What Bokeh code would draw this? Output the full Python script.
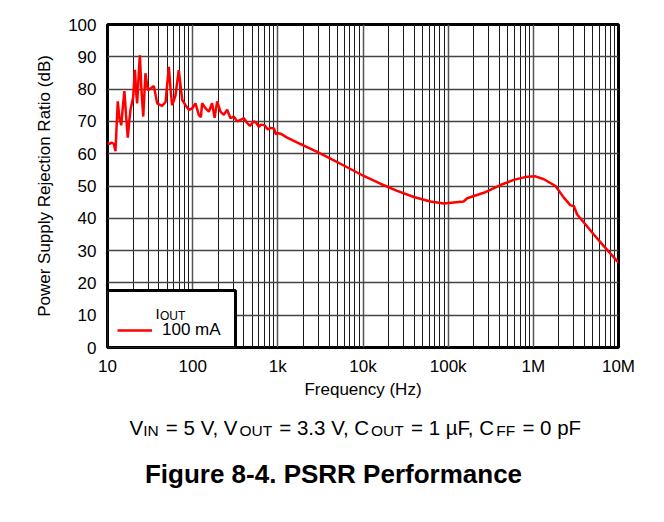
from bokeh.plotting import figure
from bokeh.layouts import column
from bokeh.models import FixedTicker, Legend, LegendItem, Label, Range1d, BoxAnnotation
from bokeh.embed import file_html
from bokeh.resources import INLINE

# ---------------- data ----------------
freq_hz = [10.0, 10.5, 11.2, 11.9, 12.4, 13.2, 13.8, 14.5, 15.2, 15.8, 16.5, 17.3, 18.0, 18.6,
           20.0, 21.0, 21.7, 22.3, 23.2, 24.0, 25.0, 26.3, 27.9, 29.7, 32.6, 35.0, 38.3, 43.8,
           48.0, 52.5, 55.0, 57.4, 62.8, 68.7, 75.3, 82.4, 90.2, 98.6, 108, 118, 125, 129, 142,
           155, 169, 181, 194, 212, 232, 254, 278, 304, 333, 365, 399, 437, 470, 523, 560, 600,
           626, 700, 760, 820, 900, 950, 982, 1074, 1288, 1845, 2112, 2897, 4150, 6510, 10200,
           16000, 25200, 39500, 61900, 88800, 116000, 152000, 167000, 262000, 411000, 589000,
           845000, 1060000, 1330000, 1820000, 2280000, 2730000, 2990000, 3270000, 3920000,
           5130000, 6720000, 10000000]
psrr_db = [63.5, 63.0, 63.4, 63.0, 60.8, 76.2, 71.0, 68.8, 75.0, 79.4, 72.0, 65.0, 70.0, 73.5,
           77.5, 86.0, 79.0, 75.6, 84.0, 90.5, 80.0, 71.5, 84.9, 79.7, 80.3, 81.0, 75.6, 74.8,
           76.0, 86.9, 80.0, 75.0, 78.0, 85.9, 76.7, 75.0, 73.6, 74.0, 75.6, 72.0, 71.3, 75.6, 74.0,
           73.0, 75.6, 71.1, 76.2, 73.0, 72.0, 73.6, 71.0, 71.5, 70.0, 70.5, 71.0, 69.5, 68.6, 70.0,
           69.5, 68.2, 69.0, 68.8, 67.5, 68.0, 67.8, 66.0, 66.4, 66.2, 65.0, 63.0, 62.3, 60.6,
           58.5, 55.8, 53.1, 50.7, 48.5, 46.6, 45.2, 44.6, 44.9, 45.2, 46.2, 47.9, 50.3, 51.9,
           52.9, 53.0, 52.1, 50.0, 46.4, 44.0, 43.8, 41.2, 38.7, 35.0, 31.4, 26.3]

x_major = [10, 100, 1000, 10000, 100000, 1000000, 10000000]
x_labels = ["10", "100", "1k", "10k", "100k", "1M", "10M"]
x_minor = [m * d for d in x_major[:-1] for m in range(2, 10)]
y_major = list(range(0, 101, 10))

series_label = "100 mA"
legend_title_main = "I"
legend_title_sub = "OUT"
caption_parts = [("V", False), ("IN", True), ("= 5 V, V", False), ("OUT", True),
                 ("= 3.3 V, C", False), ("OUT", True), ("= 1 µF, C", False), ("FF", True),
                 ("= 0 pF", False)]
figure_title = "Figure 8-4. PSRR Performance"

FONT = "Liberation Sans"

# Arial / Liberation Sans advance widths (per 1000 em) for laying out the caption pieces
ADV = {" ": 278, "=": 584, "0": 556, "1": 556, "3": 556, "5": 556, ".": 278, ",": 278,
       "V": 667, "C": 722, "F": 611, "I": 278, "N": 722, "O": 778, "U": 722, "T": 611,
       "p": 556, "µ": 576}


def text_width(s, size):
    return sum(ADV.get(ch, 556) for ch in s) * size / 1000.0


# ---------------- geometry (pixels in the picture) ----------------
FL, FR, FT, FB = 107, 618, 24, 347
W, H1, H2 = 650, 410, 108

p = figure(width=W, height=H1, x_axis_type="log",
           x_range=Range1d(10, 1e7), y_range=Range1d(0, 100),
           output_backend="svg", toolbar_location=None,
           min_border_left=FL, min_border_right=W - FR,
           min_border_top=FT, min_border_bottom=H1 - FB)
p.background_fill_color = "white"
p.border_fill_color = "white"
p.outline_line_color = "black"
p.outline_line_width = 3
p.outline_line_alpha = 1.0

xt = FixedTicker(ticks=x_major, minor_ticks=x_minor)
yt = FixedTicker(ticks=y_major)
p.xaxis.ticker = xt
p.xgrid.ticker = xt
p.yaxis.ticker = yt
p.ygrid.ticker = yt
p.xaxis.major_label_overrides = {v: s for v, s in zip(x_major, x_labels)}

for ax in (p.xaxis, p.yaxis):
    ax.axis_line_color = None
    ax.major_tick_line_color = None
    ax.minor_tick_line_color = None
    ax.major_label_text_font = FONT
    ax.major_label_text_font_size = "17px"
    ax.major_label_text_color = "black"
    ax.axis_label_text_font = FONT
    ax.axis_label_text_font_size = "17px"
    ax.axis_label_text_font_style = "normal"
    ax.axis_label_text_color = "black"

p.xaxis.axis_label = "Frequency (Hz)"
p.yaxis.axis_label = "Power Supply Rejection Ratio (dB)"
p.xaxis.major_label_standoff = 3
p.xaxis.axis_label_standoff = 1
p.yaxis.major_label_standoff = 5
p.yaxis.axis_label_standoff = 11

p.xgrid.grid_line_color = "#555555"
p.xgrid.grid_line_width = 1.5
p.xgrid.minor_grid_line_color = "#1a1a1a"
p.xgrid.minor_grid_line_width = 1
p.ygrid.grid_line_color = "#444444"
p.ygrid.grid_line_width = 1.5

r = p.line(freq_hz, psrr_db, line_color="#ff0000", line_width=2.5)


def fx(px):
    return 10 ** (1 + 6 * (px - FL) / (FR - FL))


def fy(py):
    return 100 * (FB - py) / (FB - FT)


# legend box (drawn first so the texts sit on top of it)
p.add_layout(BoxAnnotation(left=10, right=fx(235), bottom=0, top=fy(290),
                           fill_color="white", fill_alpha=1.0,
                           line_color="black", line_width=3, line_alpha=1.0))

legend = Legend(items=[LegendItem(label=series_label, renderers=[r])],
                location=(10, 7), margin=0, padding=10, spacing=0,
                glyph_width=35, glyph_height=20, label_standoff=10, label_width=58,
                label_height=20,
                label_text_font=FONT, label_text_font_size="17px", label_text_color="black",
                border_line_color=None, background_fill_alpha=0.0)
p.add_layout(legend, "center")

p.add_layout(Label(x=fx(155), y=fy(313), text=legend_title_main, text_font=FONT,
                   text_font_size="15px", text_color="black",
                   text_align="left", text_baseline="alphabetic"))
p.add_layout(Label(x=fx(159.5), y=fy(315), text=legend_title_sub, text_font=FONT,
                   text_font_size="12px", text_color="black",
                   text_align="left", text_baseline="alphabetic"))

# ---------------- caption area ----------------
c = figure(width=W, height=H2, x_range=Range1d(FL, FR), y_range=Range1d(H1 + H2, H1),
           output_backend="svg", toolbar_location=None,
           x_axis_location=None, y_axis_location=None,
           min_border_left=FL, min_border_right=W - FR, min_border_top=0, min_border_bottom=0)
c.outline_line_color = None
c.xgrid.visible = False
c.ygrid.visible = False
c.background_fill_color = "white"
c.border_fill_color = "white"

MAIN, SUB, GAP = 20.5, 15.5, 1.5
cx = 129.0
for i, (txt, sub) in enumerate(caption_parts):
    if not sub and i > 0:
        cx += text_width(" ", MAIN)
    size = SUB if sub else MAIN
    c.add_layout(Label(x=cx, y=430 if sub else 427, text=txt, text_font=FONT,
                       text_font_size=f"{size}px", text_color="black",
                       text_align="left", text_baseline="alphabetic"))
    cx += text_width(txt, size) + (GAP if sub else 0)

c.add_layout(Label(x=333, y=473, text=figure_title, text_font=FONT,
                   text_font_size="26px", text_font_style="bold", text_color="black",
                   text_align="center", text_baseline="alphabetic"))

open("out.html", "w").write(file_html(column(p, c), INLINE))
